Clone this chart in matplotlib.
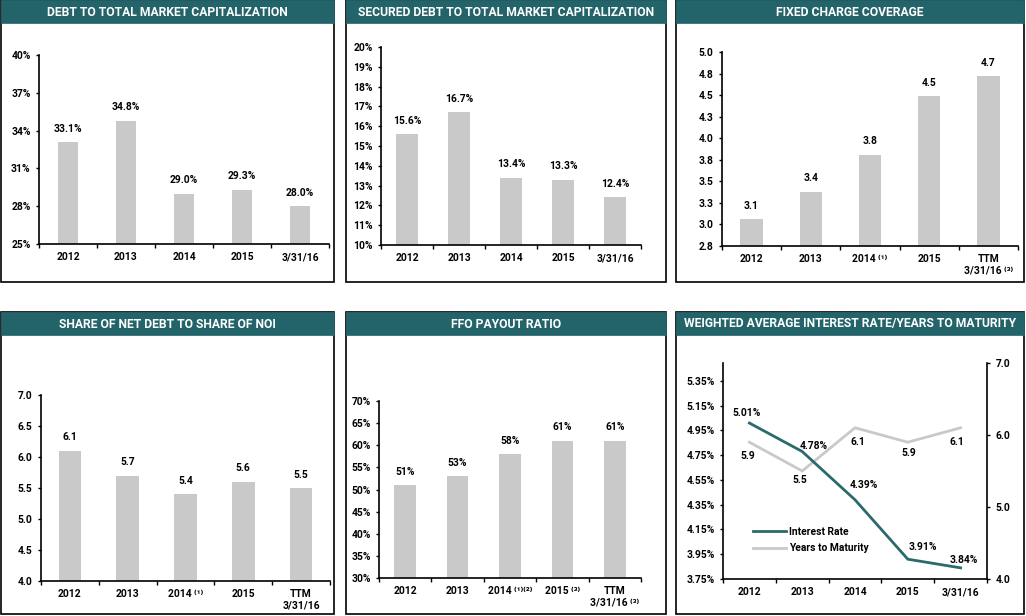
import matplotlib
matplotlib.use("Agg")
import matplotlib.pyplot as plt
from matplotlib.patches import Rectangle
from matplotlib.lines import Line2D

plt.rcParams['font.family'] = ['Roboto', 'DejaVu Sans']
plt.rcParams['font.weight'] = 'bold'

# ---------------- data ----------------
cats_a = ["2012", "2013", "2014", "2015", "3/31/16"]
cats_b = ["2012", "2013", "2014 ⁽¹⁾", "2015", "TTM\n3/31/16 ⁽³⁾"]
cats_noi = ["2012", "2013", "2014 ⁽¹⁾", "2015", "TTM\n3/31/16"]
cats_ffo = ["2012", "2013", "2014 ⁽¹⁾⁽²⁾", "2015 ⁽³⁾", "TTM\n3/31/16 ⁽³⁾"]

debt_cap = [33.1, 34.8, 29.0, 29.3, 28.0]
debt_cap_labels = ["33.1%", "34.8%", "29.0%", "29.3%", "28.0%"]
debt_ticks = [25, 28, 31, 34, 37, 40]

sec_debt = [15.6, 16.7, 13.4, 13.3, 12.4]
sec_debt_labels = ["15.6%", "16.7%", "13.4%", "13.3%", "12.4%"]
sec_ticks = [10, 11, 12, 13, 14, 15, 16, 17, 18, 19, 20]

fcc = [3.06, 3.38, 3.81, 4.49, 4.72]
fcc_labels = ["3.1", "3.4", "3.8", "4.5", "4.7"]
fcc_ticks = [2.75, 3.0, 3.25, 3.5, 3.75, 4.0, 4.25, 4.5, 4.75, 5.0]
fcc_ticklabels = ["2.8", "3.0", "3.3", "3.5", "3.8", "4.0", "4.3", "4.5", "4.8", "5.0"]

noi = [6.1, 5.7, 5.4, 5.6, 5.5]
noi_labels = ["6.1", "5.7", "5.4", "5.6", "5.5"]
noi_ticks = [4.0, 4.5, 5.0, 5.5, 6.0, 6.5, 7.0]

ffo = [51, 53, 58, 61, 61]
ffo_labels = ["51%", "53%", "58%", "61%", "61%"]
ffo_ticks = [30, 35, 40, 45, 50, 55, 60, 65, 70]

rate = [5.01, 4.78, 4.39, 3.91, 3.84]
rate_labels = ["5.01%", "4.78%", "4.39%", "3.91%", "3.84%"]
rate_ticks = [3.75, 3.95, 4.15, 4.35, 4.55, 4.75, 4.95, 5.15, 5.35]
years = [5.9, 5.5, 6.1, 5.9, 6.1]
years_labels = ["5.9", "5.5", "6.1", "5.9", "6.1"]
years_ticks = [4.0, 5.0, 6.0, 7.0]

# ---------------- style ----------------
W, H = 1026, 616
TEAL = "#23646A"
BAR = "#C9C9C9"
LINE_TEAL = "#2A6A6D"
FS = 7.4

fig = plt.figure(figsize=(W / 100, H / 100), dpi=100)


def px_axes(x0, y0, x1, y1):
    return fig.add_axes([x0 / W, 1 - y1 / H, (x1 - x0) / W, (y1 - y0) / H])


def panel(x0, y0, x1, y1, title):
    fig.patches.append(Rectangle((x0 / W, 1 - y1 / H), (x1 - x0) / W, (y1 - y0) / H,
                                 transform=fig.transFigure, fill=False,
                                 edgecolor="black", lw=1.2, zorder=1))
    fig.patches.append(Rectangle((x0 / W, 1 - (y0 + 23) / H), (x1 - x0) / W, 23 / H,
                                 transform=fig.transFigure, facecolor=TEAL,
                                 edgecolor=TEAL, lw=0.5, zorder=2))
    fig.text((x0 + x1) / 2 / W, 1 - (y0 + 12) / H, title, color="white",
             ha="center", va="center", fontsize=8.7, fontweight="bold", zorder=3)


def style_axes(ax, cats):
    for s in ["top", "right"]:
        ax.spines[s].set_visible(False)
    for s in ["left", "bottom"]:
        ax.spines[s].set_linewidth(1.2)
    ax.set_xlim(0, len(cats))
    ax.set_xticks(range(len(cats) + 1))
    ax.set_xticklabels([])
    ax.set_xticks([i + 0.5 for i in range(len(cats))], minor=True)
    ax.set_xticklabels(cats, minor=True, fontsize=FS, fontweight="bold",
                       linespacing=1.1, va="top")
    ax.tick_params(axis="x", which="major", direction="out", length=3, width=1)
    ax.tick_params(axis="x", which="minor", length=0, pad=6)
    ax.tick_params(axis="y", direction="out", length=2.5, width=1, pad=3.5,
                   labelsize=FS)
    ax.patch.set_visible(False)


def bar_chart(ax, cats, vals, labels, ticks, ticklabels, width):
    xs = [i + 0.5 for i in range(len(vals))]
    ax.bar(xs, [v - ticks[0] for v in vals], bottom=ticks[0], width=width,
           color=BAR, edgecolor="none")
    ax.set_ylim(ticks[0], ticks[-1])
    ax.set_yticks(ticks)
    ax.set_yticklabels(ticklabels)
    style_axes(ax, cats)
    for x, v, t in zip(xs, vals, labels):
        ax.annotate(t, (x, v), xytext=(0, 6), textcoords="offset points",
                    ha="center", va="bottom", fontsize=FS, fontweight="bold")


# ---------- panel 1 ----------
panel(1, 0, 334, 282, "DEBT TO TOTAL MARKET CAPITALIZATION")
ax1 = px_axes(39, 55, 329, 244)
bar_chart(ax1, cats_a, debt_cap, debt_cap_labels, debt_ticks,
          [f"{t}%" for t in debt_ticks], 0.35)

# ---------- panel 2 ----------
panel(346, 0, 666, 282, "SECURED DEBT TO TOTAL MARKET CAPITALIZATION")
ax2 = px_axes(381, 47, 641, 245)
bar_chart(ax2, cats_a, sec_debt, sec_debt_labels, sec_ticks,
          [f"{t}%" for t in sec_ticks], 0.42)

# ---------- panel 3 ----------
panel(676, 0, 1024, 282, "FIXED CHARGE COVERAGE")
ax3 = px_axes(722, 52, 1018, 246)
bar_chart(ax3, cats_b, fcc, fcc_labels, fcc_ticks, fcc_ticklabels, 0.38)

# ---------- panel 4 ----------
panel(1, 312, 334, 614, "SHARE OF NET DEBT TO SHARE OF NOI")
ax4 = px_axes(41, 395, 330, 581)
bar_chart(ax4, cats_noi, noi, noi_labels, noi_ticks,
          [f"{t:.1f}" for t in noi_ticks], 0.39)

# ---------- panel 5 ----------
panel(346, 312, 666, 614, "FFO PAYOUT RATIO")
ax5 = px_axes(379, 401, 641, 578)
bar_chart(ax5, cats_ffo, ffo, ffo_labels, ffo_ticks,
          [f"{t}%" for t in ffo_ticks], 0.41)

# ---------- panel 6 ----------
panel(676, 312, 1024, 614, "WEIGHTED AVERAGE INTEREST RATE/YEARS TO MATURITY")
ax6 = px_axes(723, 363, 987, 579)
ax6r = ax6.twinx()
xs = [i + 0.5 for i in range(len(rate))]
ax6r.plot(xs, years, color=BAR, lw=2.0, solid_joinstyle="miter")
ax6.plot(xs, rate, color=LINE_TEAL, lw=2.0, solid_joinstyle="miter")
ax6.set_zorder(ax6r.get_zorder() + 1)
ax6.set_ylim(3.75, 5.495)
ax6.set_yticks(rate_ticks)
ax6.set_yticklabels([f"{t:.2f}%" for t in rate_ticks])
ax6r.set_ylim(4.0, 7.0)
ax6r.set_yticks(years_ticks)
ax6r.set_yticklabels([f"{t:.1f}" for t in years_ticks], fontsize=FS,
                     fontweight="bold")
style_axes(ax6, cats_a)
for s in ["top", "left", "bottom"]:
    ax6r.spines[s].set_visible(False)
ax6r.spines["right"].set_linewidth(1.2)
ax6r.tick_params(axis="y", direction="out", length=2.5, width=1, pad=3.5)

PT = 0.72  # px -> points
rate_off = [(-3, 10), (12, 6), (9, 15), (15, 12), (3, 8)]
for x, v, t, (dx, dy) in zip(xs, rate, rate_labels, rate_off):
    ax6.annotate(t, (x, v), xytext=(dx * PT, dy * PT), textcoords="offset points",
                 ha="center", va="center", fontsize=FS, fontweight="bold")
years_off = [(-2, -14), (-2, -9), (3, -14), (1, -11), (-4, -14)]
for x, v, t, (dx, dy) in zip(xs, years, years_labels, years_off):
    ax6r.annotate(t, (x, v), xytext=(dx * PT, dy * PT), textcoords="offset points",
                  ha="center", va="center", fontsize=FS, fontweight="bold")

handles = [Line2D([], [], color=LINE_TEAL, lw=2.0),
           Line2D([], [], color=BAR, lw=2.0)]
ax6.legend(handles, ["Interest Rate", "Years to Maturity"], frameon=False,
           loc="upper left", bbox_to_anchor=(753 / W, 1 - 527 / H),
           bbox_transform=fig.transFigure, borderpad=0, borderaxespad=0,
           handlelength=3.2, handletextpad=0.3, labelspacing=0.6,
           prop={"size": FS, "weight": "bold"})

fig.savefig("out.png", dpi=100)
